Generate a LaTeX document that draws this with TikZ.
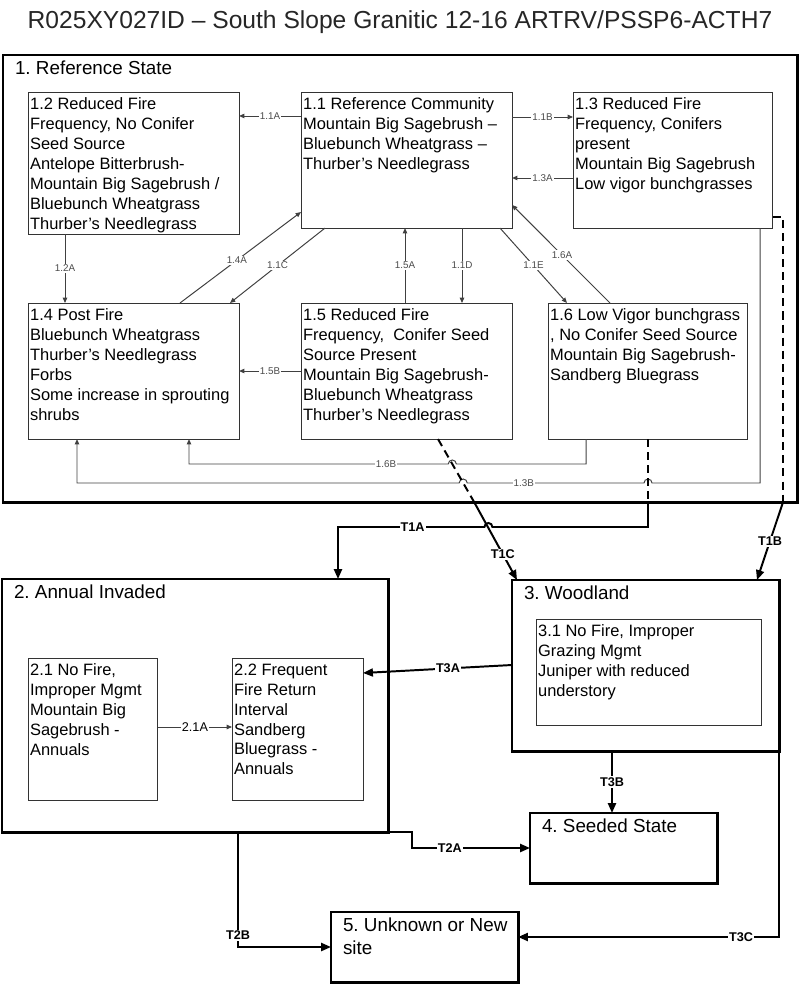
\documentclass[tikz,border=0pt]{standalone}
\usepackage{fontspec}
\setmainfont{Liberation Sans}
\usetikzlibrary{arrows.meta}

\newcommand{\boxtext}[3]{\parbox[t][#2][t]{#1}{\raggedright #3}}

\begin{document}
\frenchspacing
\begin{tikzpicture}[x=0.025cm,y=-0.025cm,
  state/.style={rectangle,draw=black,line width=2.1pt,anchor=north west,outer sep=0pt,inner xsep=0.3cm,inner ysep=0.15cm,font=\fontsize{13.4}{16}\selectfont},
  phase/.style={rectangle,draw=black!80,line width=0.7pt,anchor=north west,outer sep=0pt,inner xsep=1.5pt,inner ysep=4pt,font=\fontsize{11.7}{14.2}\selectfont},
  flow/.style={draw=black!75,line width=0.7pt,-{Triangle[length=3.8pt,width=3.2pt]}},
  trans/.style={draw=black,line width=1.4pt,-{Triangle[length=7pt,width=5.7pt]}},
  tdashed/.style={draw=black,line width=1.4pt,dash pattern=on 5.7pt off 3.6pt},
  lab/.style={fill=white,inner sep=0.8pt,font=\fontsize{7}{8}\selectfont,text=black!70},
  tlab/.style={fill=white,inner sep=0.8pt,font=\bfseries\fontsize{9}{10}\selectfont}]
\useasboundingbox (0,0) rectangle (800,984);
\node at (400,22) (title) [font=\fontsize{17.5}{20}\selectfont,text=black!85] {R025XY027ID – South Slope Granitic 12-16 ARTRV/PSSP6-ACTH7};

\node at (3,55) (s1) [state] {\boxtext{19.25cm}{10.875cm}{1. Reference State}};
\node at (2,579) (s2) [state] {\boxtext{9.05cm}{6.025cm}{2. Annual Invaded}};
\node at (512,580) (s3) [state] {\boxtext{6.075cm}{3.975cm}{3. Woodland}};
\node at (530,813) (s4) [state] {\boxtext{4.075cm}{1.45cm}{4. Seeded State}};
\node at (331,912) (s5) [state] {\boxtext{4.075cm}{1.45cm}{\mbox{5. Unknown or New}\\site}};

\node at (28,92) (p12) [phase] {\boxtext{5.17cm}{3.27cm}{1.2 Reduced Fire\\Frequency, No Conifer\\Seed Source\\Antelope Bitterbrush-\\Mountain Big Sagebrush /\\Bluebunch Wheatgrass\\Thurber’s Needlegrass}};
\node at (301,92) (p11) [phase] {\boxtext{5.17cm}{3.12cm}{1.1 Reference Community\\Mountain Big Sagebrush –\\Bluebunch Wheatgrass –\\Thurber’s Needlegrass}};
\node at (573,92) (p13) [phase] {\boxtext{4.89cm}{3.12cm}{1.3 Reduced Fire\\Frequency, Conifers\\present\\Mountain Big Sagebrush\\Low vigor bunchgrasses}};
\node at (28,303) (p14) [phase] {\boxtext{5.17cm}{3.12cm}{1.4 Post Fire\\Bluebunch Wheatgrass\\Thurber’s Needlegrass\\Forbs\\Some increase in sprouting\\shrubs}};
\node at (301,303) (p15) [phase] {\boxtext{5.17cm}{3.12cm}{1.5 Reduced Fire\\Frequency,\ \ Conifer Seed\\Source Present\\Mountain Big Sagebrush-\\Bluebunch Wheatgrass\\Thurber’s Needlegrass}};
\node at (548,303) (p16) [phase] {\boxtext{4.89cm}{3.12cm}{1.6 Low Vigor bunchgrass\\, No Conifer Seed Source\\Mountain Big Sagebrush-\\Sandberg Bluegrass}};
\node at (28,658) (p21) [phase] {\boxtext{3.14cm}{3.27cm}{2.1 No Fire,\\Improper Mgmt\\Mountain Big\\Sagebrush -\\Annuals}};
\node at (232,658) (p22) [phase] {\boxtext{3.17cm}{3.27cm}{2.2 Frequent\\Fire Return\\Interval\\Sandberg\\Bluegrass -\\Annuals}};
\node at (536,619) (p31) [phase] {\boxtext{5.52cm}{2.39cm}{3.1 No Fire, Improper\\Grazing Mgmt\\Juniper with reduced\\understory}};

\draw [flow] (p11.west |- 0,116) -- (p12.east |- 0,116) node[lab,pos=0.5]{1.1A};
\draw [flow] (p11.east |- 0,117) -- (p13.west |- 0,117) node[lab,pos=0.5]{1.1B};
\draw [flow] (p13.west |- 0,178) -- (p11.east |- 0,178) node[lab,pos=0.5]{1.3A};
\draw [flow] (p12.south -| 65,0) -- (p14.north -| 65,0) node[lab,pos=0.5]{1.2A};
\draw [flow] (p14.north -| 180,0) -- (p11.west |- 0,212) node[lab,pos=0.47]{1.4A};
\draw [flow] (p11.south -| 325,0) -- (p14.north -| 230,0) node[lab,pos=0.5]{1.1C};
\draw [flow] (p15.north -| 405,0) -- (p11.south -| 405,0) node[lab,pos=0.5]{1.5A};
\draw [flow] (p11.south -| 462,0) -- (p15.north -| 462,0) node[lab,pos=0.5]{1.1D};
\draw [flow] (p11.south -| 500,0) -- (p16.north -| 567,0) node[lab,pos=0.5]{1.1E};
\draw [flow] (p16.north -| 610,0) -- (p11.east |- 0,205) node[lab,pos=0.49]{1.6A};
\draw [flow] (p15.west |- 0,371) -- (p14.east |- 0,371) node[lab,pos=0.5]{1.5B};
\draw [flow] (p16.south -| 586,0) -- (586,464) -- (456.3,464) arc[start angle=0,end angle=180,radius=0.1cm]
  -- (189,464) node[lab,pos=0.24]{1.6B} -- (p14.south -| 189,0);
\draw [flow] (p13.south -| 760,0) -- (760,483) -- (652,483) arc[start angle=0,end angle=180,radius=0.1cm]
  -- (467.2,483) node[lab,pos=0.68]{1.3B} arc[start angle=0,end angle=180,radius=0.1cm]
  -- (77,483) -- (p14.south -| 77,0);
\draw [flow] (p21.east |- 0,727) -- (p22.west |- 0,727) node[lab,pos=0.5,text=black,font=\fontsize{9}{10}\selectfont]{2.1A};

\coordinate (t1cb) at (474.1,502);
\draw [tdashed] (p16.south -| 648,0) -- (s1.south -| 648,0);
\draw [trans] (s1.south -| 648,0) -- (648,527) -- (492.4,527) arc[start angle=0,end angle=180,radius=0.1cm]
  -- (338,527) node[tlab,pos=0.49]{T1A} -- (s2.north -| 338,0);
\draw [tdashed] (p15.south -| 438,0) -- (t1cb);
\draw [trans] (t1cb) -- (s3.north -| 517,0) node[tlab,pos=0.67]{T1C};
\draw [tdashed] (p13.east |- 0,217) -- (783,217) -- (s1.south -| 783,0);
\draw [trans] (s1.south -| 783,0) -- (s3.north -| 757,0) node[tlab,pos=0.5]{T1B};
\draw [trans] (s3.west |- 0,665) -- (p22.east |- 0,673) node[tlab,pos=0.43]{T3A};
\draw [trans] (s3.south -| 612,0) -- (s4.north -| 612,0) node[tlab,pos=0.5]{T3B};
\draw [trans] (s2.south east) -- (s2.south east -| 412,0) -- (412,848) -- (s4.west |- 0,848) node[tlab,pos=0.32]{T2A};
\draw [trans] (s2.south -| 238,0) -- (238,947) node[tlab,pos=0.9]{T2B} -- (s5.west |- 0,947);
\draw [trans] (s3.south east) -- (s3.south east |- 0,937) -- (s5.east |- 0,937) node[tlab,pos=0.146]{T3C};
\end{tikzpicture}
\end{document}
